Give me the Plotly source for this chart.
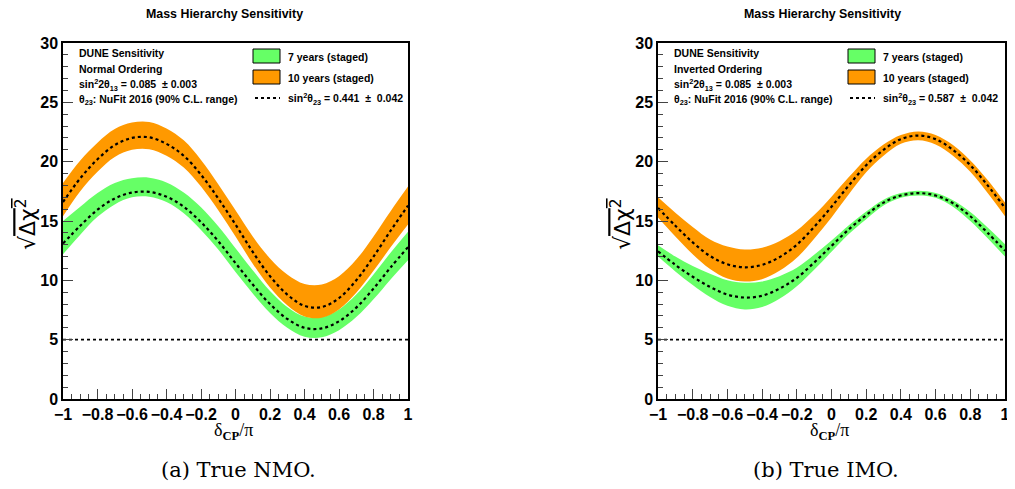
import plotly.graph_objects as go

# page has an 8px body margin; size the figure so that the page fits the 1015x489 window
OX, OY = 8, 8
FW, FH = 1015 - OX, 489 - 2 * OY

# ---------------- data ----------------
dcp = [-1.0, -0.9, -0.8, -0.7, -0.6, -0.5, -0.4, -0.3, -0.2, -0.1, 0.0,
       0.1, 0.2, 0.3, 0.4, 0.5, 0.6, 0.7, 0.8, 0.9, 1.0]

# True NMO (left panel)
nmo_10y_center = [16.6, 18.6, 20.2, 21.4, 22.0, 22.05, 21.5, 20.5, 18.9, 16.9, 14.7,
                  12.4, 10.35, 8.8, 7.85, 7.75, 8.5, 10.0, 12.0, 14.2, 16.3]
nmo_10y_upper = [18.2, 20.1, 21.6, 22.75, 23.3, 23.35, 22.8, 21.8, 20.15, 18.1, 15.9,
                 13.7, 11.85, 10.5, 9.7, 9.65, 10.35, 11.75, 13.7, 15.85, 17.9]
nmo_10y_lower = [15.4, 17.5, 19.15, 20.4, 21.0, 21.05, 20.5, 19.5, 17.9, 15.9, 13.7,
                 11.4, 9.4, 7.9, 6.95, 6.85, 7.55, 8.95, 10.8, 12.8, 14.7]
nmo_7y_center = [13.1, 14.6, 15.95, 16.9, 17.4, 17.45, 17.05, 16.2, 14.9, 13.3, 11.45,
                 9.65, 8.0, 6.75, 6.0, 5.95, 6.55, 7.7, 9.3, 11.1, 12.8]
nmo_7y_upper = [15.0, 16.2, 17.35, 18.2, 18.6, 18.65, 18.25, 17.4, 16.15, 14.55, 12.7,
                10.85, 9.1, 7.75, 6.95, 6.9, 7.55, 8.8, 10.5, 12.35, 14.1]
nmo_7y_lower = [12.2, 13.85, 15.35, 16.4, 17.0, 17.05, 16.6, 15.65, 14.25, 12.6, 10.7,
                8.9, 7.25, 6.0, 5.25, 5.2, 5.8, 6.9, 8.4, 10.1, 11.7]

# True IMO (right panel)
imo_10y_center = [16.1, 14.6, 13.2, 12.05, 11.35, 11.1, 11.3, 11.95, 13.0, 14.5, 16.2,
                  18.0, 19.7, 21.0, 21.9, 22.2, 21.9, 21.0, 19.7, 18.0, 16.1]
imo_10y_upper = [17.0, 15.7, 14.5, 13.45, 12.85, 12.6, 12.75, 13.3, 14.2, 15.5, 17.05,
                 18.7, 20.25, 21.45, 22.25, 22.55, 22.25, 21.4, 20.1, 18.45, 16.55]
imo_10y_lower = [15.3, 13.7, 12.2, 10.95, 10.15, 9.9, 10.1, 10.8, 11.9, 13.5, 15.3,
                 17.25, 19.1, 20.5, 21.5, 21.8, 21.45, 20.5, 19.15, 17.35, 15.4]
imo_7y_center = [12.45, 11.3, 10.3, 9.45, 8.8, 8.55, 8.7, 9.3, 10.2, 11.5, 12.9,
                 14.3, 15.5, 16.55, 17.15, 17.35, 17.15, 16.5, 15.4, 14.0, 12.5]
imo_7y_upper = [12.95, 12.0, 11.2, 10.55, 10.0, 9.8, 9.9, 10.35, 11.05, 12.15, 13.35,
                14.65, 15.8, 16.8, 17.35, 17.55, 17.35, 16.75, 15.75, 14.45, 13.05]
imo_7y_lower = [12.0, 10.75, 9.6, 8.6, 7.85, 7.55, 7.75, 8.45, 9.5, 10.9, 12.4,
                13.9, 15.15, 16.3, 16.95, 17.15, 16.95, 16.2, 15.0, 13.55, 12.0]

threshold_x = [-1.0, 1.0]
threshold_y = [5.0, 5.0]

x_ticks = [-1, -0.8, -0.6, -0.4, -0.2, 0, 0.2, 0.4, 0.6, 0.8, 1]
y_ticks = [0, 5, 10, 15, 20, 25, 30]

GREEN = "rgb(102,255,102)"
ORANGE = "rgb(255,153,0)"

panels = [
    dict(xa="x", ya="y",
         bands=[(nmo_7y_lower, nmo_7y_upper, GREEN), (nmo_10y_lower, nmo_10y_upper, ORANGE)],
         centers=[nmo_7y_center, nmo_10y_center]),
    dict(xa="x2", ya="y2",
         bands=[(imo_7y_lower, imo_7y_upper, GREEN), (imo_10y_lower, imo_10y_upper, ORANGE)],
         centers=[imo_7y_center, imo_10y_center]),
]

fig = go.Figure()
for p in panels:
    for lo, up, col in p["bands"]:
        fig.add_trace(go.Scatter(x=dcp, y=lo, mode="lines", line=dict(width=0, color=col, shape="spline"),
                                 xaxis=p["xa"], yaxis=p["ya"], showlegend=False, hoverinfo="skip"))
        fig.add_trace(go.Scatter(x=dcp, y=up, mode="lines", line=dict(width=0, color=col, shape="spline"),
                                 fill="tonexty", fillcolor=col,
                                 xaxis=p["xa"], yaxis=p["ya"], showlegend=False, hoverinfo="skip"))
    for c in p["centers"]:
        fig.add_trace(go.Scatter(x=dcp, y=c, mode="lines",
                                 line=dict(width=2.2, color="black", dash="dot", shape="spline"),
                                 xaxis=p["xa"], yaxis=p["ya"], showlegend=False))
    fig.add_trace(go.Scatter(x=threshold_x, y=threshold_y, mode="lines",
                             line=dict(width=1.6, color="black", dash="dot"),
                             xaxis=p["xa"], yaxis=p["ya"], showlegend=False))


def px(x):
    return (x - OX) / FW


def py(y):
    return 1 - (y - OY) / FH


FONT = "Liberation Sans"


def xaxis_cfg(d0, d1, anchor):
    return dict(domain=[px(d0), px(d1)], range=[-1, 1], anchor=anchor,
                tickvals=x_ticks, ticks="inside", ticklen=10, tickwidth=1.2,
                showline=True, linecolor="black", linewidth=1.5, mirror=True,
                showgrid=False, zeroline=False, ticklabeloverflow="allow",
                minor=dict(dtick=0.05, ticks="inside", ticklen=5, tickwidth=1, tick0=0),
                tickfont=dict(family=FONT, size=16, color="black", weight="bold"))


def yaxis_cfg(anchor):
    return dict(domain=[py(399), py(43)], range=[0, 30], anchor=anchor,
                tickvals=y_ticks, ticks="inside", ticklen=10, tickwidth=1.2,
                showline=True, linecolor="black", linewidth=1.5, mirror=True,
                showgrid=False, zeroline=False,
                minor=dict(dtick=1, ticks="inside", ticklen=5, tickwidth=1, tick0=0),
                tickfont=dict(family=FONT, size=16, color="black", weight="bold"))


fig.update_layout(
    width=FW, height=FH, margin=dict(l=0, r=0, t=0, b=0, autoexpand=False),
    paper_bgcolor="white", plot_bgcolor="white",
    xaxis=xaxis_cfg(63, 408, "y"), yaxis=yaxis_cfg("x"),
    xaxis2=xaxis_cfg(658, 1005, "y2"), yaxis2=yaxis_cfg("x2"),
    showlegend=False,
)

ann = []
shapes = []
NB = "\u00a0"


def add_text(x, y, text, size=10.5, bold=True, xanchor="left", family=FONT, angle=0, color="black"):
    ann.append(dict(x=px(x), y=py(y), xref="paper", yref="paper", text=text, showarrow=False,
                    xanchor=xanchor, yanchor="middle", textangle=angle,
                    font=dict(family=family, size=size, color=color, weight="bold" if bold else "normal")))


captions = [
    dict(x0=63, x1=408, title_x=224, ordering="Normal Ordering", s23="0.441", cap="(a) True NMO.", cap_x=238),
    dict(x0=658, x1=1005, title_x=822, ordering="Inverted Ordering", s23="0.587", cap="(b) True IMO.", cap_x=826),
]
for c in captions:
    add_text(c["title_x"], 14, "Mass Hierarchy Sensitivity", size=12.4, xanchor="center")
    tx = c["x0"] + 14
    add_text(tx, 53, "DUNE Sensitivity")
    add_text(tx, 69, c["ordering"])
    add_text(tx, 85, "sin<sup>2</sup>2θ<sub>13</sub> = 0.085 " + NB + "± 0.003")
    add_text(tx, 100, "θ<sub>23</sub>: NuFit 2016 (90% C.L. range)")
    bx = c["x0"] + 190
    shapes.append(dict(type="rect", xref="paper", yref="paper", x0=px(bx), x1=px(bx + 27),
                       y0=py(63), y1=py(49), fillcolor=GREEN, line=dict(color="black", width=1)))
    shapes.append(dict(type="rect", xref="paper", yref="paper", x0=px(bx), x1=px(bx + 27),
                       y0=py(84), y1=py(70), fillcolor=ORANGE, line=dict(color="black", width=1)))
    shapes.append(dict(type="line", xref="paper", yref="paper", x0=px(bx + 2), x1=px(bx + 27),
                       y0=py(98), y1=py(98), line=dict(color="black", width=2, dash="dot")))
    add_text(bx + 33, 57, "7 years (staged)")
    add_text(bx + 33, 78, "10 years (staged)")
    add_text(bx + 33, 99, "sin<sup>2</sup>θ<sub>23</sub> = " + c["s23"] + " " + NB + "± " + NB + "0.042")
    # axis titles
    add_text((c["x0"] + c["x1"]) / 2 - 2, 431, "δ<sub><b>CP</b></sub>/π", size=18, bold=False,
             xanchor="center", family="Liberation Serif")
    add_text(c["x0"] - 37, 224,
             "√<span style='text-decoration:overline'>Δχ<sup>2</sup></span>",
             size=22, bold=False, xanchor="center", family="DejaVu Sans", angle=-90)
    add_text(c["cap_x"], 470, c["cap"], size=21, bold=False, xanchor="center", family="DejaVu Serif")

fig.update_layout(annotations=ann, shapes=shapes)
fig.write_html("out.html")
